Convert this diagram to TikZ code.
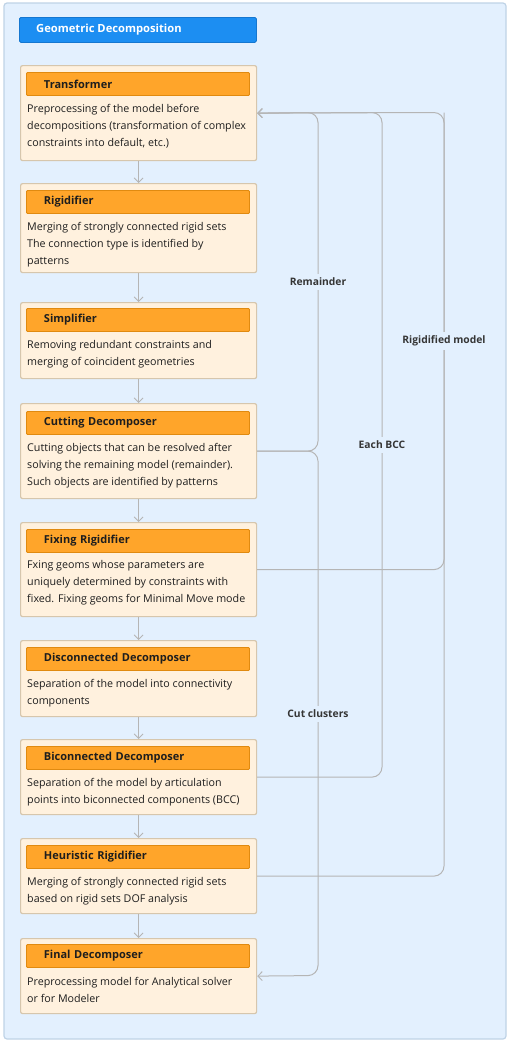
\documentclass[tikz,border=0pt]{standalone}
\usepackage{fontspec}
\setmainfont{Open Sans}
\usetikzlibrary{arrows.meta}
\definecolor{bgc}{HTML}{E3F0FE}
\definecolor{bgborder}{HTML}{BFD3E6}
\definecolor{titlec}{HTML}{1C8EF2}
\definecolor{titleb}{HTML}{1577D0}
\definecolor{boxfill}{HTML}{FFF1DE}
\definecolor{boxborder}{HTML}{D6C6AD}
\definecolor{headfill}{HTML}{FFA52A}
\definecolor{headborder}{HTML}{E08A10}
\definecolor{linec}{HTML}{B5B5B5}
\definecolor{txt}{HTML}{1E1E1E}
\tikzset{
  stagebox/.style={draw=boxborder, fill=boxfill, line width=1.2pt, rounded corners=2pt, minimum width=236pt, anchor=north west, inner sep=0pt},
  headbox/.style={draw=headborder, fill=headfill, line width=0.9pt, rounded corners=1pt, minimum width=223pt, minimum height=23pt, anchor=north west, inner sep=0pt, text=txt, font=\fontsize{11}{12}\selectfont\bfseries, text width=188pt, align=left},
  desc/.style={anchor=north west, inner sep=0pt, text=txt, font=\fontsize{10.7}{16.8}\selectfont, align=left},
  conn/.style={draw=linec, line width=1pt, rounded corners=10pt},
  tip/.style={-{Straight Barb[length=4.5pt,width=9pt,line width=0.9pt]}},
  lbl/.style={fill=bgc, text=txt!90, font=\fontsize{10.3}{12}\selectfont\bfseries, inner sep=4pt},
}
\begin{document}
\begin{tikzpicture}[x=1pt,y=-1pt]
\useasboundingbox (0,0) rectangle (510,1042);
\draw[draw=bgborder, fill=bgc, line width=1.2pt, rounded corners=3pt] (4,3) rectangle (506,1039);
\node[draw=titleb, fill=titlec, line width=0.8pt, rounded corners=1.5pt, minimum width=237pt, minimum height=25pt, anchor=north west, inner sep=0pt] (title) at (19,17) {};
\node[anchor=west, text=white, font=\fontsize{11.2}{12}\selectfont\bfseries, inner sep=0pt] (titletxt) at (36,29.5) {Geometric Decomposition};

% stages
\node[stagebox, minimum height=95pt] (tr) at (20,65) {};
\node[headbox] (trh) at (26,72) {Transformer};
\node[desc] (trd) at (27,104.5) {Preprocessing of the model before\\decompositions (transformation of complex\\constraints into default, etc.)};

\node[stagebox, minimum height=89pt] (ri) at (20,183) {};
\node[headbox] (rih) at (26,190) {Rigidifier};
\node[desc] (rid) at (27,222.5) {Merging of strongly connected rigid sets\\The connection type is identified by\\patterns};

\node[stagebox, minimum height=76pt] (si) at (20,302) {};
\node[headbox] (sih) at (26,308) {Simplifier};
\node[desc] (sid) at (27,340.5) {Removing redundant constraints and\\merging of coincident geometries};

\node[stagebox, minimum height=95pt] (cu) at (20,403) {};
\node[headbox] (cuh) at (26,411) {Cutting Decomposer};
\node[desc] (cud) at (27,443.5) {Cutting objects that can be resolved after\\solving the remaining model (remainder).\\Such objects are identified by patterns};

\node[stagebox, minimum height=94pt] (fi) at (20,522) {};
\node[headbox] (fih) at (26,529) {Fixing Rigidifier};
\node[desc] (fid) at (27,560.5) {Fxing geoms whose parameters are\\uniquely determined by constraints with\\fixed. Fixing geoms for Minimal Move mode};

\node[stagebox, minimum height=76pt] (di) at (20,640) {};
\node[headbox] (dih) at (26,647) {Disconnected Decomposer};
\node[desc] (did) at (27,679.5) {Separation of the model into connectivity\\components};

\node[stagebox, minimum height=75pt] (bi) at (20,739) {};
\node[headbox] (bih) at (26,746) {Biconnected Decomposer};
\node[desc] (bid) at (27,778.5) {Separation of the model by articulation\\points into biconnected components (BCC)};

\node[stagebox, minimum height=75pt] (he) at (20,838) {};
\node[headbox] (heh) at (26,845) {Heuristic Rigidifier};
\node[desc] (hed) at (27,877.5) {Merging of strongly connected rigid sets\\based on rigid sets DOF analysis};

\node[stagebox, minimum height=75pt] (fn) at (20,938) {};
\node[headbox] (fnh) at (26,944) {Final Decomposer};
\node[desc] (fnd) at (27,977.5) {Preprocessing model for Analytical solver\\or for Modeler};

% vertical flow
\foreach \a/\b in {tr/ri, ri/si, si/cu, cu/fi, fi/di, di/bi, bi/he, he/fn}
  \draw[conn, tip] (\a.south) -- (\b.north);

% feedback coordinates
\coordinate (r1) at (318,112.5);
\coordinate (r2) at (382,112.5);
\coordinate (r3) at (444,112.5);
\coordinate (c1) at (318,975.5);

\draw[conn, tip] (cu.east) -| (r1) -- (tr.east);
\draw[conn, tip] (cu.east) -| (c1) -- (fn.east);
\draw[conn, tip] (bi.east) -| (r2) -- (tr.east);
\draw[conn, tip] (he.east) -| (r3) -- (tr.east);
\draw[conn] (fi.east) -| (r3);

\node[lbl] (lrem) at (318,282) {Remainder};
\node[lbl] (lbcc) at (382,445) {Each BCC};
\node[lbl] (lrig) at (444,341) {Rigidified model};
\node[lbl] (lcut) at (318,714) {Cut clusters};
\end{tikzpicture}
\end{document}
